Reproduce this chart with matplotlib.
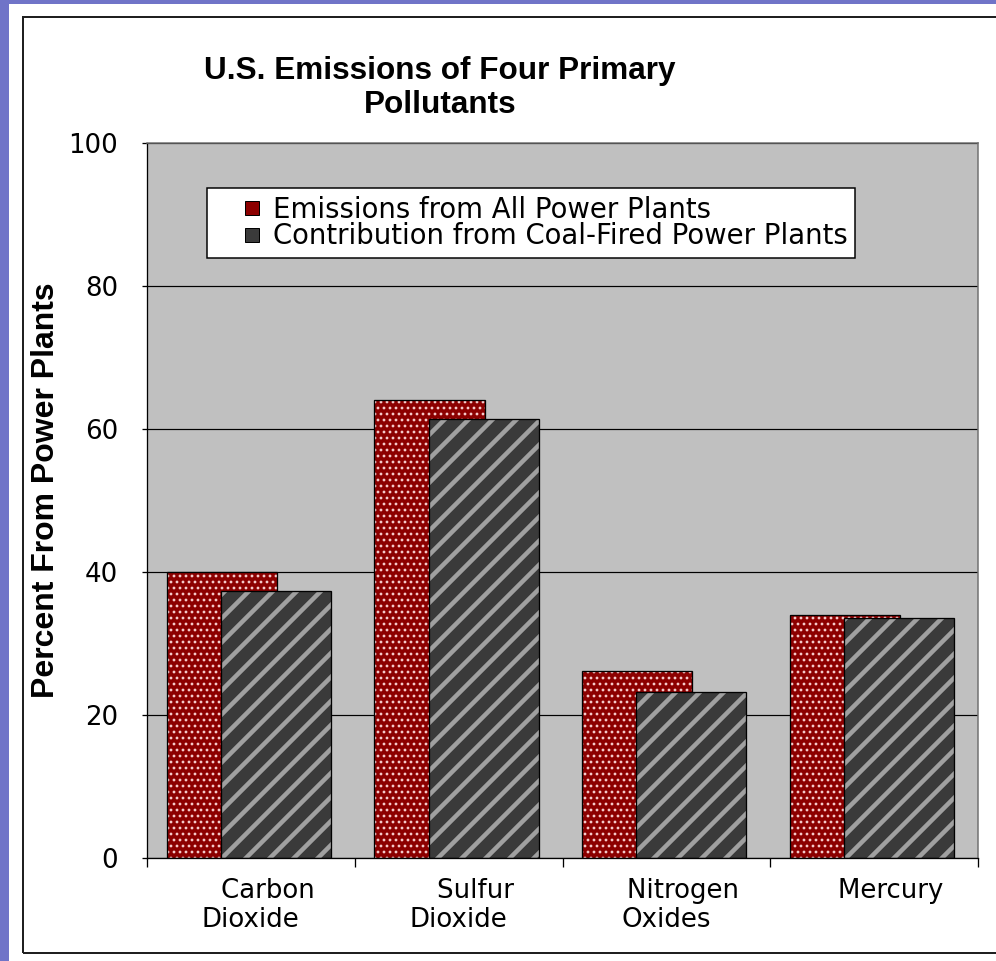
import matplotlib
matplotlib.use('Agg')
import matplotlib.pyplot as plt
import numpy as np
from matplotlib.patches import Rectangle, Patch
from matplotlib.legend_handler import HandlerPatch

# chart values
categories = ['    Carbon\nDioxide', '    Sulfur\nDioxide', '    Nitrogen\nOxides', '    Mercury']
all_plants = [40.0, 64.0, 26.2, 34.0]
coal_plants = [37.3, 61.4, 23.2, 33.5]
series_names = ['Emissions from All Power Plants', 'Contribution from Coal-Fired Power Plants']
yticks = [0, 20, 40, 60, 80, 100]

RED = '#8c0000'
DARK = '#3a3a3a'
W, H = 996, 961
DPI = 72

fig = plt.figure(figsize=(W / DPI, H / DPI), dpi=DPI, facecolor='#7074c8')

# white slide panel and its black frame
fig.add_artist(Rectangle((9 / W, 0), 1, 1 - 4 / H, transform=fig.transFigure,
                         facecolor='white', edgecolor='none', zorder=-2))
fig.add_artist(Rectangle((23 / W, 1 - 953 / H), 1, (953 - 17) / H, transform=fig.transFigure,
                         facecolor='none', edgecolor='#202020', linewidth=2, zorder=-1))

ax = fig.add_axes([147 / W, 1 - 858 / H, (978 - 147) / W, (858 - 143) / H])
ax.set_facecolor('#c0c0c0')
ax.set_axisbelow(True)

x = np.arange(len(categories))
width = 0.53

# red bars with white dots
with plt.rc_context({'hatch.color': '#f6cccc', 'hatch.linewidth': 1.6}):
    b1 = ax.bar(x - 0.14, all_plants, width, color=RED, hatch='..', linewidth=0)
    for p in b1:
        if hasattr(p, 'set_hatch_linewidth'):
            p.set_hatch_linewidth(1.6)
ax.bar(x - 0.14, all_plants, width, fill=False, edgecolor='black', linewidth=1.3)

# dark bars with light diagonal stripes
with plt.rc_context({'hatch.color': '#a0a0a0', 'hatch.linewidth': 4.5}):
    b2 = ax.bar(x + 0.12, coal_plants, width, color=DARK, hatch='/', linewidth=0)
    for p in b2:
        if hasattr(p, 'set_hatch_linewidth'):
            p.set_hatch_linewidth(4.5)
ax.bar(x + 0.12, coal_plants, width, fill=False, edgecolor='black', linewidth=1.3)

ax.set_xlim(-0.5, 3.5)
ax.set_ylim(0, 100)
ax.set_yticks(yticks)
ax.yaxis.grid(True, color='black', linewidth=1.2)
ax.xaxis.grid(False)

for s in ['left', 'bottom']:
    ax.spines[s].set_color('black')
    ax.spines[s].set_linewidth(1.3)
for s in ['top', 'right']:
    ax.spines[s].set_color('#707070')
    ax.spines[s].set_linewidth(1.5)

ax.set_xticks(x)
ax.set_xticklabels(categories, fontsize=26, family='DejaVu Sans', linespacing=1.15)
ax.set_xticks(np.arange(-0.5, 4.0, 1.0), minor=True)
ax.tick_params(axis='x', which='major', length=0, pad=20)
ax.tick_params(axis='x', which='minor', length=9, width=1.3, direction='out')
ax.tick_params(axis='y', length=5, width=1.3, direction='out', pad=24, labelsize=26)
for t in ax.get_yticklabels():
    t.set_family('DejaVu Sans')


def square_right(legend, orig_handle, xdescent, ydescent, width, height, fontsize):
    side = 14
    return Rectangle((width - side - xdescent, (height - side) / 2 - ydescent), side, side)


handles = [Patch(facecolor=RED, edgecolor='black', linewidth=1),
           Patch(facecolor=DARK, edgecolor='black', linewidth=1)]
leg = ax.legend(handles, series_names, loc='upper left',
                bbox_to_anchor=((207 - 147) / 831, (858 - 188) / 715),
                borderaxespad=0, fancybox=False, framealpha=1, edgecolor='black',
                prop={'family': 'DejaVu Sans', 'size': 27.5}, borderpad=0.28,
                labelspacing=-0.05, handlelength=1.62, handleheight=0.55, handletextpad=0.5,
                handler_map={Patch: HandlerPatch(patch_func=square_right)})
leg.get_frame().set_linewidth(1.5)

fig.text(440 / W, 1 - 88 / H, 'U.S. Emissions of Four Primary\nPollutants',
         ha='center', va='center', fontsize=31.5, fontweight='bold',
         family='Liberation Sans', linespacing=1.15)
fig.text(46 / W, 1 - 490 / H, 'Percent From Power Plants', rotation=90,
         ha='center', va='center', fontsize=32, fontweight='bold', family='Liberation Sans')

fig.savefig('out.png', dpi=DPI, facecolor=fig.get_facecolor())
